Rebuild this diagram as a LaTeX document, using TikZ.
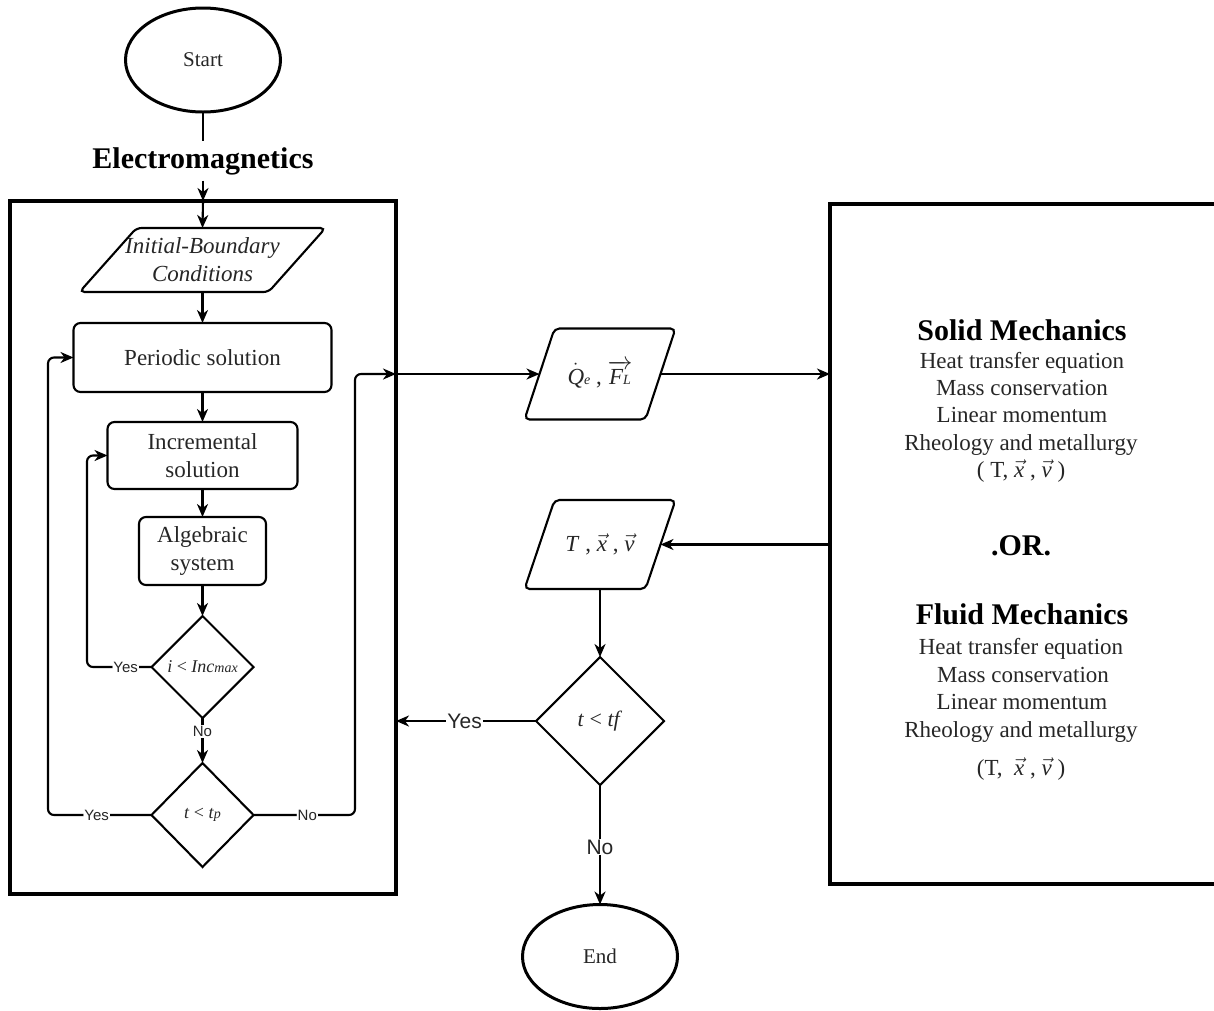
\documentclass[tikz,border=0pt]{standalone}
\usepackage{fontspec}
\usepackage{amsmath}
\setmainfont{Liberation Serif}
\setsansfont{Liberation Sans}
\usetikzlibrary{shapes.geometric,arrows.meta,calc}
\newcommand\drawpara[2]{\draw[shapeline, rounded corners=5pt] ([xshift=#2pt]#1.north west) -- ([xshift=#2pt]#1.north east) -- ([xshift=-#2pt]#1.south east) -- ([xshift=-#2pt]#1.south west) -- cycle;}
\newcommand\smallit[1]{\mbox{\fontsize{14}{14}\selectfont\itshape #1}}
\begin{document}
\begin{tikzpicture}[x=1pt,y=-1pt,
  every node/.style={outer sep=0pt},
  txt/.style={text=black!85},
  shapeline/.style={draw=black, line width=2.1pt},
  conn/.style={draw=black, line width=2.1pt},
  arr/.style={conn, -{Stealth[length=13pt,width=11pt,inset=4pt]}},
  body/.style={txt, font=\fontsize{23}{28}\selectfont},
  ell/.style={ellipse, draw, line width=3pt, minimum width=155pt, minimum height=104pt, inner sep=0pt, txt, font=\fontsize{21}{25}\selectfont},
  rbox/.style={draw, line width=2.1pt, rounded corners=7pt, body, align=center, inner sep=0pt},
  dia/.style={diamond, aspect=1, draw, line width=2.1pt, inner sep=0pt, txt},
  para/.style={body, align=center, inner sep=0pt},
  bigbox/.style={draw, line width=3.2pt, inner sep=0pt},
  lblS/.style={fill=white, inner sep=1pt, txt, font=\sffamily\fontsize{15}{15}\selectfont},
  lblL/.style={fill=white, inner sep=1pt, txt, font=\sffamily\fontsize{21}{21}\selectfont},
  hd/.style={font=\fontsize{30}{31}\selectfont\bfseries, anchor=base, inner sep=0pt},
  rl/.style={txt, font=\fontsize{23}{28}\selectfont, anchor=base, inner sep=0pt},
]
\useasboundingbox (0,0) rectangle (1214,1010);

% Start and electromagnetics
\node[ell] (start) at (203,60) {Start};
\node[font=\fontsize{30}{31}\selectfont\bfseries, inner xsep=2pt, inner ysep=6pt, anchor=base] (em) at (203,168) {Electromagnetics};
\draw[conn] (start.south) -- (em.north);

% Left box
\node[bigbox, minimum width=386pt, minimum height=693pt] (lbox) at (203,547.5) {};
\draw[arr] (em.south) -- (lbox.north);

\node[para, font=\fontsize{23}{28}\selectfont\itshape, minimum width=189pt, minimum height=64pt] (ibc) at (202.5,260) {Initial-Boundary\\Conditions};
\drawpara{ibc}{28.5}
\draw[arr] (lbox.north) -- (ibc.north);

\node[rbox, minimum width=258pt, minimum height=69pt] (per) at (202.5,357.5) {Periodic solution};
\node[rbox, minimum width=190pt, minimum height=67pt] (inc) at (202.5,455.5) {Incremental\\solution};
\node[rbox, minimum width=127pt, minimum height=68pt] (alg) at (202.5,551) {Algebraic\\system};
\node[dia, minimum width=102pt, minimum height=102pt, font=\fontsize{18}{20}\selectfont] (d1) at (202.5,667) {\textit{i} < \textit{Inc}\smallit{max}};
\node[dia, minimum width=102pt, minimum height=104pt, font=\fontsize{18}{20}\selectfont] (d2) at (202.5,815) {\textit{t} < \textit{t}\smallit{p}};

\draw[arr] (ibc.south) -- (per.north);
\draw[arr] (per.south) -- (inc.north);
\draw[arr] (inc.south) -- (alg.north);
\draw[arr] (alg.south) -- (d1.north);
\draw[arr] (d1.south) -- node[lblS, pos=0.3] {No} (d2.north);

\coordinate (yb1) at (87,667);
\coordinate (yb2) at (48,815);
\coordinate (nb2) at (355,815);
\draw[arr, rounded corners=6pt] (d1.west) -- node[lblS, pos=0.4] {Yes} (yb1) |- (inc.west);
\draw[arr, rounded corners=6pt] (d2.west) -- node[lblS, pos=0.53] {Yes} (yb2) |- (per.west);

% Middle column
\node[para, minimum width=121pt, minimum height=91pt] (qe) at (600,374) {$\dot{\textit{Q}}$\smallit{e} , $\overrightarrow{\textit{F}\smallit{L}}$};
\drawpara{qe}{15}
\node[para, minimum width=121pt, minimum height=89pt] (tx) at (600,544.5) {\textit{T} , $\vec{\textit{x}}$ , $\vec{\textit{v}}$};
\drawpara{tx}{15}
\node[dia, minimum width=128pt, minimum height=128pt, font=\fontsize{22}{24}\selectfont] (d3) at (600,721) {\textit{t} < \textit{tf}};
\node[ell] (end) at (600,956.5) {End};

% Right box
\node[bigbox, minimum width=400pt, minimum height=680pt] (rbx) at (1030,544) {};

\coordinate (rb1) at (lbox.east |- qe.west);
\coordinate (rb2) at (rbx.west |- qe.east);
\coordinate (rb3) at (rbx.west |- tx.east);
\coordinate (rb4) at (lbox.east |- d3.west);
\draw[arr, rounded corners=6pt] (d2.east) -- node[lblS, pos=0.53] {No} (nb2) |- (rb1);
\draw[arr] (rb1) -- (qe.west);
\draw[arr] (qe.east) -- (rb2);
\draw[arr] (rb3) -- (tx.east);
\draw[arr] (tx.south) -- (d3.north);
\draw[arr] (d3.west) -- node[lblL, pos=0.51] {Yes} (rb4);
\draw[arr] (d3.south) -- node[lblL, pos=0.52] {No} (end.north);

% Right box text
\node[hd] (sh) at (1022,340) {Solid Mechanics};
\node[rl] (s1) at (1022,368) {Heat transfer equation};
\node[rl] (s2) at (1022,395) {Mass conservation};
\node[rl] (s3) at (1022,422) {Linear momentum};
\node[rl] (s4) at (1021,450) {Rheology and metallurgy};
\node[rl] (s5) at (1021,477) {( T, $\vec{\textit{x}}$ , $\vec{\textit{v}}$ )};
\node[hd] (orr) at (1021,555) {.OR.};
\node[hd] (fh) at (1022,624) {Fluid Mechanics};
\node[rl] (f1) at (1021,654) {Heat transfer equation};
\node[rl] (f2) at (1023,682) {Mass conservation};
\node[rl] (f3) at (1022,709) {Linear momentum};
\node[rl] (f4) at (1021,737) {Rheology and metallurgy};
\node[rl] (f5) at (1021,775) {(T,\ \ $\vec{\textit{x}}$ , $\vec{\textit{v}}$ )};
\end{tikzpicture}
\end{document}
